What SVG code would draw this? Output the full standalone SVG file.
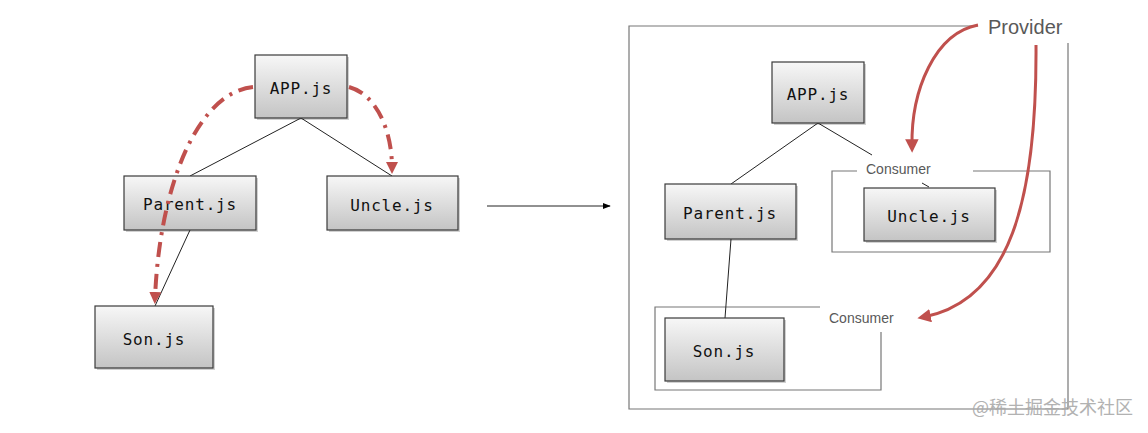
<svg xmlns="http://www.w3.org/2000/svg" width="1148" height="433" viewBox="0 0 1148 433">
<style>
.box{fill:url(#g);stroke:#3a3a3a;stroke-width:1.2}
.sh{fill:#000;opacity:0.18}
.lbl{font-family:"DejaVu Sans Mono",monospace;font-size:16px;letter-spacing:0.8px;fill:#111;text-anchor:middle;dominant-baseline:central}
.ln{stroke:#222;stroke-width:1;fill:none}
.frm{stroke:#777;stroke-width:1.2;fill:none}
.cons{font-family:"Liberation Sans",Arial,sans-serif;font-size:14px;fill:#595959}
.dd{stroke:#c0504d;stroke-width:4;fill:none;stroke-dasharray:15 7 3 7}
.rd{stroke:#c0504d;stroke-width:3;fill:none}
</style>
<defs>
<linearGradient id="g" x1="0" y1="0" x2="0" y2="1">
<stop offset="0" stop-color="#f7f7f7"/>
<stop offset="1" stop-color="#c4c4c4"/>
</linearGradient>
<marker id="ah" viewBox="0 0 10 10" refX="5" refY="5" markerWidth="3" markerHeight="3" orient="auto" markerUnits="strokeWidth">
<path d="M0,0 L10,5 L0,10 z" fill="#c0504d"/>
</marker>
<marker id="ah2" viewBox="0 0 10 10" refX="5" refY="5" markerWidth="4.5" markerHeight="4.5" orient="auto" markerUnits="strokeWidth">
<path d="M0,0 L10,5 L0,10 z" fill="#c0504d"/>
</marker>
<marker id="bk" viewBox="0 0 10 10" refX="9" refY="5" markerWidth="8" markerHeight="8" orient="auto" markerUnits="userSpaceOnUse">
<path d="M0,1 L10,5 L0,9 z" fill="#000"/>
</marker>
</defs>

<g id="frames">
<path class="frm" d="M978,26 H629 V409 H1068 V43"/>
<path class="frm" d="M857,171 H832 V252 H1050 V171 H973"/>
<path class="frm" d="M820,307 H655 V390 H881 V332"/>
</g>

<g id="connectors">
<line class="ln" x1="301" y1="118" x2="190" y2="176"/>
<line class="ln" x1="301" y1="118" x2="392" y2="176"/>
<line class="ln" x1="190" y1="230" x2="155" y2="306"/>
<line class="ln" x1="818" y1="123" x2="731" y2="184"/>
<line class="ln" x1="818" y1="123" x2="872" y2="155"/>
<line class="ln" x1="922" y1="183" x2="929" y2="187"/>
<line class="ln" x1="731" y1="239" x2="725" y2="318"/>
<line class="ln" x1="487" y1="206" x2="610" y2="206" marker-end="url(#bk)"/>
</g>

<g id="app-left"><rect class="sh" x="257" y="57" width="92" height="63"/><rect class="box" x="255" y="55" width="92" height="63"/><text class="lbl" x="301" y="88">APP.js</text></g>
<g id="parent-left"><rect class="sh" x="126" y="178" width="132" height="54"/><rect class="box" x="124" y="176" width="132" height="54"/><text class="lbl" x="190" y="204">Parent.js</text></g>
<g id="uncle-left"><rect class="sh" x="329" y="178" width="131" height="54"/><rect class="box" x="327" y="176" width="131" height="54"/><text class="lbl" x="392" y="205">Uncle.js</text></g>
<g id="son-left"><rect class="sh" x="97" y="308" width="118" height="62"/><rect class="box" x="95" y="306" width="118" height="62"/><text class="lbl" x="154" y="339">Son.js</text></g>

<g id="app-right"><rect class="sh" x="774" y="64" width="92" height="61"/><rect class="box" x="772" y="62" width="92" height="61"/><text class="lbl" x="818" y="94">APP.js</text></g>
<g id="parent-right"><rect class="sh" x="667" y="186" width="131" height="55"/><rect class="box" x="665" y="184" width="131" height="55"/><text class="lbl" x="730" y="213">Parent.js</text></g>
<g id="uncle-right"><rect class="sh" x="866" y="190" width="131" height="53"/><rect class="box" x="864" y="188" width="131" height="53"/><text class="lbl" x="929" y="216">Uncle.js</text></g>
<g id="son-right"><rect class="sh" x="667" y="320" width="119" height="63"/><rect class="box" x="665" y="318" width="119" height="63"/><text class="lbl" x="724" y="351">Son.js</text></g>

<g id="labels">
<text class="cons" x="866" y="174">Consumer</text>
<text class="cons" x="829" y="323">Consumer</text>
<text x="988" y="34" font-family="Liberation Sans,Arial,sans-serif" font-size="20" fill="#595959">Provider</text>
</g>

<g id="red-arrows">
<path class="dd" d="M253,87 C200,92 160,180 155,298" marker-end="url(#ah)"/>
<path class="dd" d="M349,87 C375,94 392,128 392,168" marker-end="url(#ah)"/>
<path class="rd" d="M978,25 C935,33 911,90 912,146" marker-end="url(#ah2)"/>
<path class="rd" d="M1036,45 C1037,200 1010,300 924,317" marker-end="url(#ah2)"/>
</g>

<text x="972" y="414" font-family="Noto Sans CJK SC,sans-serif" font-size="18" fill="#aaa" opacity="0.9">@稀土掘金技术社区</text>
</svg>
